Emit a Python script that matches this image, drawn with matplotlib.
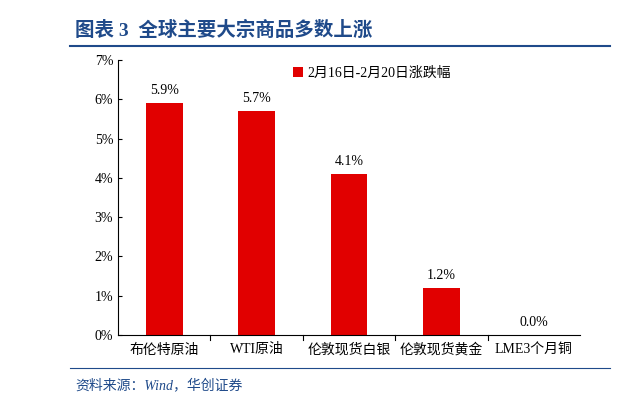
import matplotlib
matplotlib.use("Agg")
import matplotlib.pyplot as plt
from matplotlib.lines import Line2D

plt.rcParams['font.family'] = ['Liberation Serif', 'Noto Sans CJK SC']

categories = ["布伦特原油", "WTI原油", "伦敦现货白银", "伦敦现货黄金", "LME3个月铜"]
values = [5.9, 5.7, 4.1, 1.2, 0.0]
series_name = "2月16日-2月20日涨跌幅"
yticks = [0, 1, 2, 3, 4, 5, 6, 7]

fig = plt.figure(figsize=(6.2, 4.04), dpi=100)
ax = fig.add_axes([118/620, 1-335/404, 462/620, 275/404])
x = range(len(categories))
ax.bar(x, values, width=0.4, color='#E10000', label=series_name)
for xi, v in zip(x, values):
    ax.text(xi, v + 0.15, f"{v:.1f}%", ha='center', va='bottom', fontsize=10)
ax.set_xlim(-0.5, len(categories) - 0.5)
ax.set_ylim(0, 7)
ax.set_yticks(yticks)
ax.set_yticklabels([f"{t}%" for t in yticks], fontsize=10)
ax.set_xticks(list(x))
ax.set_xticklabels(categories, fontsize=10)
ax.tick_params(axis='x', length=0, pad=6)
ax.tick_params(axis='y', direction='in', length=3)
for b in [i + 0.5 for i in range(len(categories) - 1)]:
    ax.plot([b, b], [0, -0.12], color='black', lw=0.8, clip_on=False)
for s in ['top', 'right']:
    ax.spines[s].set_visible(False)
ax.legend(loc='upper center', bbox_to_anchor=(0.55, 1.02), frameon=False,
          fontsize=10, handlelength=0.7, handleheight=0.7, handletextpad=0.3)

fig.text(75/620, 1-30/404, "图表 3  全球主要大宗商品多数上涨", color='#1F4A8A',
         fontsize=14, fontweight='bold', va='center')
fig.add_artist(Line2D([70/620, 610/620], [1-46/404, 1-46/404], color='#1F4A8A', lw=1.5))
fig.add_artist(Line2D([70/620, 610/620], [1-368/404, 1-368/404], color='#1F4A8A', lw=0.8))
fig.text(75/620, 1-385/404, "资料来源：Wind，华创证券", color='#1F4A8A',
         fontsize=10, style='italic', va='center')
fig.savefig("out.png", dpi=100)
